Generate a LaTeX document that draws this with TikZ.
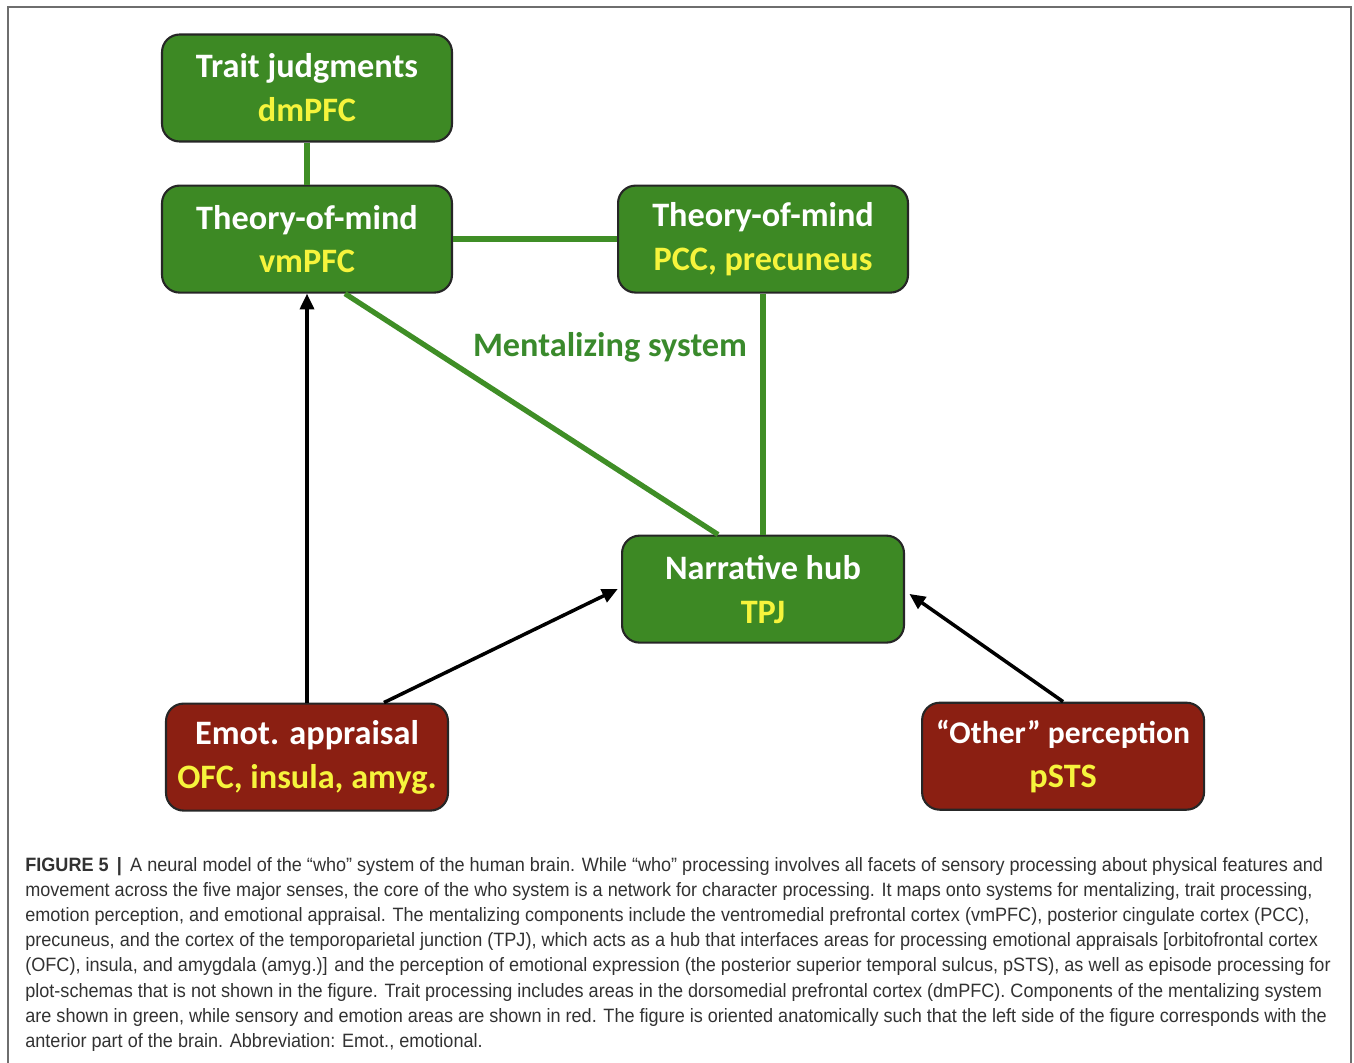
\documentclass[tikz,border=0pt]{standalone}
\usepackage{fontspec}
\setmainfont{Carlito}
\newfontfamily\capfont[FakeStretch=0.935]{Liberation Sans}
\usetikzlibrary{positioning,arrows.meta}

\definecolor{boxgreen}{RGB}{61,137,36}
\definecolor{linegreen}{RGB}{63,142,38}
\definecolor{labelgreen}{RGB}{58,138,44}
\definecolor{boxred}{RGB}{139,31,18}
\definecolor{areayellow}{RGB}{246,244,60}
\definecolor{captext}{RGB}{50,50,50}
\definecolor{framegray}{RGB}{110,110,110}

\tikzset{
  region/.style={draw=black!85, line width=1.2pt, rounded corners=10pt,
    minimum width=5.8cm, minimum height=2.14cm, align=center, inner sep=0pt,
    text=white, font=\bfseries\fontsize{19.5}{25}\selectfont},
  mental/.style={region, fill=boxgreen},
  sensory/.style={region, fill=boxred, minimum width=5.64cm},
  link/.style={draw=linegreen, line width=3pt},
  feed/.style={draw=black, line width=2pt, -{Triangle[length=9pt,width=8pt]}},
}
\newcommand{\area}[1]{\textcolor{areayellow}{#1}}

\begin{document}
\begin{tikzpicture}[x=0.02cm, y=-0.02cm]
    \useasboundingbox (0,0) rectangle (1354,1062);
    \clip (0,0) rectangle (1354,1062);
    \draw[framegray, line width=0.9pt] (8,1090) -- (8,7) -- (1351,7) -- (1351,1090);

    % mentalizing system
    \node[mental] (trait) at (307,88) {Trait judgments\\\area{dmPFC}};
    \node[mental, below = 0.84cm of trait] (vm) {Theory-of-mind\\\area{vmPFC}};
    \node[mental, right = 3.28cm of vm] (pcc) {Theory-of-mind\\\area{PCC, precuneus}};
    \node[mental, below = 4.82cm of pcc, minimum width=5.64cm] (hub) {Narrative hub\\\area{TPJ}};
    \node[text=labelgreen, font=\bfseries\fontsize{19.5}{24}\selectfont] (msys) at (610,347) {Mentalizing system};

    % sensory and emotion areas
    \node[sensory, below = 8.18cm of vm] (emot) {Emot. appraisal\\\area{OFC, insula, amyg.}};
    \node[sensory, below right = 1.16cm and 0.32cm of hub] (other)
      {{\fontsize{18}{25}\selectfont ``Other'' perception}\\\area{pSTS}};

    \draw[link] (trait) -- (vm);
    \draw[link] (vm) -- (pcc);
    \draw[link] (pcc) -- (hub);
    \draw[link] ([xshift=0.76cm]vm.south) -- ([xshift=-0.9cm]hub.north);

    \draw[feed] (emot.north) -- (vm.south);
    \draw[feed, shorten >=2pt] ([xshift=1.54cm]emot.north) -- ([yshift=1pt]hub.west);
    \draw[feed, shorten >=3pt] (other.north) -- ([yshift=-1pt]hub.east);

    % caption
    \node[anchor=north west, align=left, inner sep=0pt, text=captext,
      font=\capfont\fontsize{11}{14.3}\selectfont] (cap) at (25,857) {%
      \textbf{FIGURE 5 \,|\,} A neural model of the “who” system of the human brain. While “who” processing involves all facets of sensory processing about physical features and\\
      movement across the five major senses, the core of the who system is a network for character processing. It maps onto systems for mentalizing, trait processing,\\
      emotion perception, and emotional appraisal. The mentalizing components include the ventromedial prefrontal cortex (vmPFC), posterior cingulate cortex (PCC),\\
      precuneus, and the cortex of the temporoparietal junction (TPJ), which acts as a hub that interfaces areas for processing emotional appraisals [orbitofrontal cortex\\
      (OFC), insula, and amygdala (amyg.)] and the perception of emotional expression (the posterior superior temporal sulcus, pSTS), as well as episode processing for\\
      plot-schemas that is not shown in the figure. Trait processing includes areas in the dorsomedial prefrontal cortex (dmPFC). Components of the mentalizing system\\
      are shown in green, while sensory and emotion areas are shown in red. The figure is oriented anatomically such that the left side of the figure corresponds with the\\
      anterior part of the brain. Abbreviation: Emot., emotional.};
\end{tikzpicture}
\end{document}
